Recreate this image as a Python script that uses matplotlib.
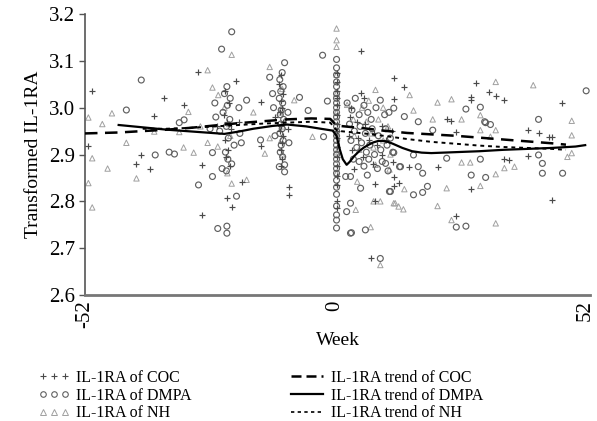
import matplotlib
matplotlib.use("Agg")
import matplotlib.pyplot as plt
from matplotlib.lines import Line2D

plt.rcParams['font.family'] = ['Liberation Serif', 'DejaVu Serif']

# ---------------- data ----------------
coc_weeks = [-50.5, -35.5, -37.6, -31.4, -51.3, -40.3, -41.3, -38.4,
             -28.5, -20.5, -27.6, -27.6, -19.3, -22.5, -21.5, -15.5, -15.5,
             -22.8, -22.0, -23.2, -22.5, -21.6, -22.9, -22.2, -22.6, -21.8, -24.5, -20.0,
             -11.2, -11.6, -10.8, -11.3, -11.0, -11.5, -10.9, -11.2, -11.4, -10.8, -11.1, -11.3, -11.0, -11.2, -9.5, -9.5, -12.5, -9.8,
             0.3, 0.3, 0.3, 0.3, 0.3, 0.3, 0.3, 0.3, 0.3, 0.3, 0.3, 0.3, 0.3, 0.3, 0.3, 0.3,
             5.4, 12.2, 5.3, 3.0, 4.5, 6.2, 8.0, 9.8, 11.8, 2.8, 4.8, 7.0, 8.8, 10.5, 3.5, 5.8, 7.8, 9.8, 12.0, 4.0, 8.4, 8.4, 12.2, 7.4, 3.3, 6.0,
             14.4, 12.3, 23.2, 24.2, 25.2, 28.3, 28.3, 29.2, 28.3, 21.3, 15.3, 12.2, 13.2, 25.2,
             32.1, 33.4, 35.2, 47.1, 40.2, 42.3, 44.4, 45.2, 40.2, 35.2, 36.1, 45.2]
coc_vals = [3.036, 3.021, 2.982, 3.005, 2.918, 2.900, 2.880, 2.870,
            3.077, 3.057, 2.877, 2.771, 2.842, 2.807, 2.787, 3.013, 2.918,
            3.035, 3.010, 2.985, 2.970, 2.955, 2.930, 2.910, 2.895, 2.875, 2.960, 2.970,
            3.070, 3.050, 3.030, 3.015, 3.000, 2.990, 2.970, 2.960, 2.950, 2.940, 2.925, 2.910, 2.890, 2.875, 2.831, 2.813, 2.980, 2.955,
            3.075, 3.055, 3.035, 3.020, 3.005, 2.985, 2.965, 2.950, 2.935, 2.915, 2.895, 2.875, 2.855, 2.835, 2.800, 2.785,
            3.120, 3.063, 3.031, 2.980, 2.970, 2.965, 2.945, 2.960, 2.950, 2.940, 2.935, 2.930, 2.920, 2.930, 2.910, 2.895, 2.880, 2.900, 2.885, 2.870, 2.838, 2.800, 2.832, 2.678, 3.000, 3.020,
            3.045, 3.018, 2.975, 2.972, 2.947, 3.023, 3.016, 3.052, 2.826, 2.874, 2.874, 2.853, 2.840, 2.769,
            3.034, 3.025, 3.016, 3.009, 2.952, 2.945, 2.937, 2.937, 2.897, 2.890, 2.888, 2.802]

dmpa_weeks = [-40.3, -43.4, -32.4, -31.4, -37.4, -34.5, -33.4,
              -21.5, -23.6, -10.5, -13.6, -25.5, -25.5, -28.4, -20.5, -24.4, -22.5, -22.5, -15.5, -18.4, -19.5,
              -22.5, -23.0, -21.8, -22.4, -23.3, -21.9, -22.6, -24.0, -22.2, -21.0, -22.8, -22.3, -21.5, -22.6, -25.0, -20.0, -24.8, -19.8, -26.0, -23.5,
              -11.0, -11.5, -10.8, -11.3, -11.6, -10.9, -11.2, -11.4, -10.7, -11.3, -11.0, -11.5, -10.8, -11.2, -11.4, -10.9, -11.6, -10.5, -10.5, -12.8, -12.5, -9.8, -9.6, -13.0,
              -2.6, -1.6, -5.6, -2.4, -7.4,
              0.3, 0.3, 0.3, 0.3, 0.3, 0.3, 0.3, 0.3, 0.3, 0.3, 0.3, 0.3, 0.3, 0.3, 0.3, 0.3, 0.3, 0.3, 0.3, 0.3, 0.3, 0.3, 0.3, 0.3, 0.3, 0.3, 0.3, 0.3, 0.3, 0.3,
              2.5, 3.5, 4.2, 5.0, 6.0, 6.8, 7.5, 8.5, 9.4, 10.3, 11.2, 3.0, 4.0, 5.2, 6.3, 7.7, 9.0, 10.5, 11.5, 3.3, 4.5, 5.5, 6.5, 7.2, 8.2, 9.5, 10.8, 12.0,
              3.8, 5.0, 6.0, 7.0, 8.8, 9.8, 11.0, 2.2, 3.2, 6.7, 5.3, 11.5, 3.2, 2.4, 3.2, 6.3, 13.6, 10.5, 9.4, 3.4,
              12.2, 14.4, 17.3, 20.3, 27.2, 30.2, 31.1, 23.2, 30.2, 28.3, 18.2, 17.3, 13.4, 11.3, 16.3, 18.2, 19.2, 25.2, 27.2, 12.2, 16.3,
              52.2, 31.3, 32.3, 42.3, 42.3, 43.1, 43.1, 47.3, 31.3]
dmpa_vals = [3.059, 2.995, 2.968, 2.974, 2.899, 2.905, 2.901,
             3.162, 3.125, 3.096, 3.065, 2.904, 2.853, 2.835, 2.811, 2.742, 2.747, 2.732, 2.931, 3.016, 2.925,
             3.045, 3.030, 3.020, 3.005, 2.990, 2.975, 2.960, 2.950, 2.935, 2.920, 2.905, 2.890, 2.880, 2.865, 3.010, 3.000, 2.980, 2.945, 2.955, 2.870,
             3.075, 3.060, 3.045, 3.035, 3.020, 3.010, 2.995, 2.985, 2.975, 2.965, 2.955, 2.945, 2.930, 2.920, 2.905, 2.895, 2.874, 2.863, 2.878, 3.000, 2.940, 2.990, 2.925, 3.030,
             3.112, 3.014, 2.994, 2.938, 3.022,
             3.103, 3.085, 3.070, 3.055, 3.045, 3.030, 3.020, 3.010, 3.000, 2.990, 2.980, 2.970, 2.960, 2.950, 2.940, 2.930, 2.920, 2.910, 2.900, 2.890, 2.880, 2.870, 2.860, 2.845, 2.830, 2.815, 2.790, 2.771, 2.760, 2.743,
             3.010, 2.995, 3.020, 2.985, 3.005, 2.990, 2.975, 3.000, 3.016, 2.985, 2.990, 2.965, 2.950, 2.960, 2.945, 2.955, 2.940, 2.955, 2.935, 2.930, 2.915, 2.925, 2.905, 2.920, 2.900, 2.910, 2.920, 2.905,
             2.890, 2.885, 2.875, 2.890, 2.870, 2.885, 2.865, 2.853, 2.853, 2.856, 2.828, 2.821, 2.796, 2.778, 2.732, 2.739, 2.874, 2.881, 2.678, 2.733,
             2.999, 2.981, 2.970, 2.952, 2.997, 3.001, 2.970, 2.892, 2.890, 2.856, 2.860, 2.874, 2.874, 2.821, 2.814, 2.819, 2.832, 2.745, 2.747, 2.904, 2.899,
             3.036, 2.968, 2.964, 2.975, 2.899, 2.881, 2.860, 2.860, 2.851]

nh_weeks = [-51.3, -46.4, -48.4, -37.6, -32.4, -43.4, -31.5, -50.5, -47.3, -41.3, -51.3, -50.5,
            -21.5, -26.5, -25.5, -24.3, -13.6, -30.5, -29.4, -26.5, -24.4, -21.5, -18.4, -13.6, -14.6, -23.0, -22.0, -21.8, -22.4, -28.0, -17.0,
            -11.0, -11.5, -10.8, -11.2, -11.0, -8.5, -4.7,
            0.3, 0.3, 0.3, 0.3, 0.3, 0.3, 0.3, 0.3, 0.3,
            8.4, 2.5, 5.6, 7.0, 10.0, 3.8, 6.5, 9.0, 11.0, 4.0, 7.5, 10.0, 5.0, 8.0, 11.5, 4.6, 8.4, 9.4, 8.0, 4.3, 7.4, 12.5, 9.4,
            15.5, 16.3, 20.3, 21.3, 24.2, 26.3, 30.2, 30.2, 26.3, 28.1, 30.2, 23.2, 11.3, 14.4, 12.2, 13.2, 14.2, 21.3, 24.2,
            33.4, 41.2, 33.4, 49.2, 49.2, 32.3, 49.2, 48.3, 35.2, 37.3, 33.4, 33.4]
nh_vals = [2.979, 2.988, 2.965, 2.949, 2.948, 2.925, 2.915, 2.892, 2.870, 2.849, 2.839, 2.787,
           3.113, 3.080, 3.043, 3.027, 3.087, 2.991, 2.904, 2.925, 2.917, 2.838, 2.846, 2.935, 2.902, 3.000, 2.965, 2.940, 2.860, 2.960, 2.990,
           3.040, 2.990, 2.960, 2.930, 2.900, 3.016, 2.938,
           3.169, 3.144, 3.130, 3.070, 3.030, 2.990, 2.945, 2.905, 2.860,
           3.038, 3.006, 3.000, 3.015, 3.000, 2.975, 2.970, 2.975, 2.960, 2.940, 2.945, 2.930, 2.910, 2.915, 2.900, 2.842, 2.878, 2.800, 2.800, 2.782, 2.745, 2.796, 2.664,
           3.027, 2.994, 2.975, 3.011, 3.018, 2.975, 2.984, 2.952, 2.883, 2.883, 2.833, 2.828, 2.868, 2.826, 2.796, 2.789, 2.783, 2.790, 2.760,
           3.055, 3.048, 2.952, 2.972, 2.941, 2.938, 2.903, 2.895, 2.871, 2.874, 2.858, 2.753]

coc_trend_weeks = [-52, -45, -40, -35, -30, -25, -20, -15, -10, -5, -1, 0.3, 1, 3, 6, 10, 15, 20, 25, 30, 35, 40, 45, 48]
coc_trend_vals = [2.945, 2.947, 2.950, 2.953, 2.957, 2.962, 2.967, 2.971, 2.975, 2.977, 2.976, 2.962, 2.961, 2.959, 2.956, 2.951, 2.946, 2.943, 2.940, 2.936, 2.932, 2.928, 2.924, 2.921]

dmpa_trend_weeks = [-45, -40, -35, -31, -27, -23, -20, -17, -13, -10, -6, -3, -0.5, 0.3, 1, 1.6, 2.4, 3, 4, 5, 6, 7, 8, 9, 10, 11, 12, 14, 16, 18, 20, 25, 30, 35, 40, 45, 50, 52]
dmpa_trend_vals = [2.963, 2.958, 2.953, 2.950, 2.947, 2.944, 2.949, 2.955, 2.961, 2.964, 2.960, 2.955, 2.951, 2.940, 2.910, 2.890, 2.878, 2.884, 2.897, 2.907, 2.915, 2.921, 2.926, 2.929, 2.929, 2.927, 2.923, 2.914, 2.907, 2.904, 2.903, 2.905, 2.907, 2.910, 2.912, 2.914, 2.917, 2.920]

nh_trend_weeks = [-40, -35, -30, -25, -20, -15, -10, -5, -1, 0.3, 1, 3, 6, 10, 15, 20, 25, 30, 35, 40, 45, 48]
nh_trend_vals = [2.955, 2.955, 2.957, 2.960, 2.963, 2.966, 2.968, 2.970, 2.968, 2.952, 2.950, 2.948, 2.945, 2.940, 2.933, 2.927, 2.923, 2.919, 2.916, 2.914, 2.912, 2.910]

x_ticks = [-52, 0, 52]
y_ticks = [2.6, 2.7, 2.8, 2.9, 3.0, 3.1, 3.2]

# ---------------- figure ----------------
fig = plt.figure(figsize=(5.97, 4.21), dpi=100)
ax = fig.add_axes([85 / 597, 1 - 295 / 421, (590 - 85) / 597, (295 - 14) / 421])

ax.scatter(nh_weeks, nh_vals, marker='^', s=15, facecolors='none', edgecolors='#a0a0a0', linewidths=0.7, zorder=2)
ax.scatter(dmpa_weeks, dmpa_vals, marker='o', s=18, facecolors='none', edgecolors='#606060', linewidths=0.85, zorder=3)
ax.scatter(coc_weeks, coc_vals, marker='+', s=15, color='#4a4a4a', linewidths=0.85, zorder=4)

ax.plot(coc_trend_weeks, coc_trend_vals, color='black', lw=1.8, dashes=(5, 3), zorder=5)
ax.plot(dmpa_trend_weeks, dmpa_trend_vals, color='black', lw=1.6, zorder=5)
ax.plot(nh_trend_weeks, nh_trend_vals, color='black', lw=1.4, dashes=(2, 2), zorder=5)

ax.set_xlim(-52, 53)
ax.set_ylim(2.6, 3.2)
ax.set_xticks(x_ticks)
ax.set_xticklabels([str(t) for t in x_ticks], rotation=90, fontsize=15)
ax.set_yticks(y_ticks)
ax.set_yticklabels([f"{t:.1f}" for t in y_ticks], fontsize=15)
ax.tick_params(axis='y', length=4, width=1, color='#555555', pad=3)
ax.tick_params(axis='x', length=0, pad=4)
for s in ['top', 'right']:
    ax.spines[s].set_visible(False)
ax.spines['left'].set_color('#555555')
ax.spines['bottom'].set_color('#777777')
ax.spines['left'].set_linewidth(1.2)
ax.spines['bottom'].set_linewidth(2)

ax.set_ylabel('Transformed IL-1RA', fontsize=14, labelpad=5)
ax.set_xlabel('Week', fontsize=14, labelpad=3)

# legends
h1 = [Line2D([], [], ls='none', marker='+', ms=4, mew=0.8, color='#4a4a4a'),
      Line2D([], [], ls='none', marker='o', ms=4, mfc='none', mew=0.8, color='#606060'),
      Line2D([], [], ls='none', marker='^', ms=4, mfc='none', mew=0.7, color='#a0a0a0')]
l1 = ['IL-1RA of COC', 'IL-1RA of DMPA', 'IL-1RA of NH']
h2 = [Line2D([], [], color='black', lw=1.8, dashes=(4, 2)),
      Line2D([], [], color='black', lw=1.6),
      Line2D([], [], color='black', lw=1.2, dashes=(2, 2))]
l2 = ['IL-1RA trend of COC', 'IL-1RA trend of DMPA', 'IL-1RA trend of NH']

leg1 = fig.legend(h1, l1, loc='upper left', bbox_to_anchor=(30 / 597, 1 - 362 / 421),
                  frameon=False, fontsize=11.5, numpoints=3, handlelength=2.0,
                  handletextpad=0.35, labelspacing=0.1, borderpad=0)
leg2 = fig.legend(h2, l2, loc='upper left', bbox_to_anchor=(283 / 597, 1 - 362 / 421),
                  frameon=False, fontsize=11.5, handlelength=2.0,
                  handletextpad=0.5, labelspacing=0.1, borderpad=0)

fig.savefig('out.png', dpi=100)
